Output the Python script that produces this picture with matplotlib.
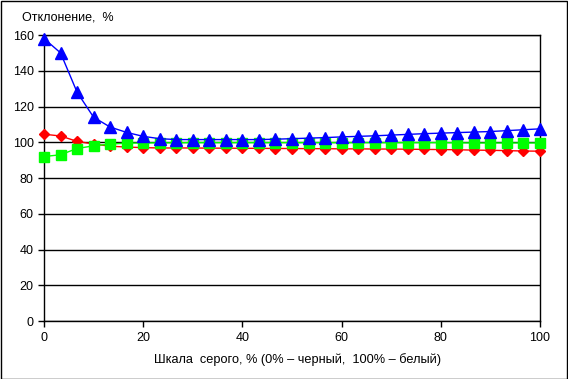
import numpy as np
import matplotlib
matplotlib.use("Agg")
import matplotlib.pyplot as plt
from matplotlib.patches import Rectangle

plt.rcParams['font.family'] = ['Liberation Sans', 'DejaVu Sans']

x = [i * 100 / 30 for i in range(31)]
blue = [158, 150, 128, 114, 108.5, 105.5, 103.3, 102, 101.5, 101.5, 101.5, 101.5,
        101.5, 101.5, 101.7, 102, 102.3, 102.6, 103, 103.3, 103.6, 104, 104.4,
        104.8, 105.1, 105.4, 105.7, 106, 106.5, 107, 107.5]
red = [104.5, 103.5, 100.5, 99, 97.8, 97.3, 97, 96.8, 96.8, 96.8, 96.7, 96.7,
       96.6, 96.6, 96.5, 96.5, 96.4, 96.4, 96.3, 96.3, 96.2, 96.2, 96.1, 96.0,
       95.9, 95.8, 95.6, 95.5, 95.3, 95.1, 95.0]
green = [92, 93, 96.5, 98, 99, 99.5, 99.6, 99.7, 99.7, 99.8, 99.8, 99.8, 99.8,
         99.8, 99.8, 99.8, 99.8, 99.8, 99.8, 99.8, 99.8, 99.8, 99.8, 99.8, 99.8,
         99.7, 99.6, 99.6, 99.6, 99.6, 99.6]
xticks = [0, 20, 40, 60, 80, 100]
yticks = [0, 20, 40, 60, 80, 100, 120, 140, 160]

fig = plt.figure(figsize=(5.68, 3.79), dpi=100)
ax = fig.add_axes([44/568, (379-321)/379, (540-44)/568, (321-35)/379])

ax.plot(x, red, color='#FF0000', lw=1, marker='D', markersize=5.5, zorder=3, clip_on=False)
ax.plot(x, green, color='#00FF00', lw=1, marker='s', markersize=7, zorder=3, clip_on=False)
ax.plot(x, blue, color='#0000FF', lw=1, marker='^', markersize=8, zorder=4, clip_on=False)

ax.set_xlim(0, 100)
ax.set_ylim(0, 160)
ax.set_xticks(xticks)
ax.set_yticks(yticks)
ax.yaxis.grid(True, color='black', lw=1)
ax.set_axisbelow(True)
for s in ax.spines.values():
    s.set_color('black')
    s.set_linewidth(1)
ax.tick_params(direction='out', length=4, width=1, labelsize=9, colors='black')
ax.tick_params(axis='x', pad=4)

fig.text(22/568, 1 - 18/379, 'Отклонение,  %', fontsize=9, va='center', ha='left')
fig.text(298/568, 1 - 360/379, 'Шкала  серого, % (0% – черный,  100% – белый)', fontsize=9.2,
         va='center', ha='center')

fig.patches.append(Rectangle((0.5/568, 0.5/379), 1 - 1.5/568, 1 - 1.5/379, transform=fig.transFigure,
                             fill=False, edgecolor='black', lw=1))

fig.savefig('out.png', dpi=100)
